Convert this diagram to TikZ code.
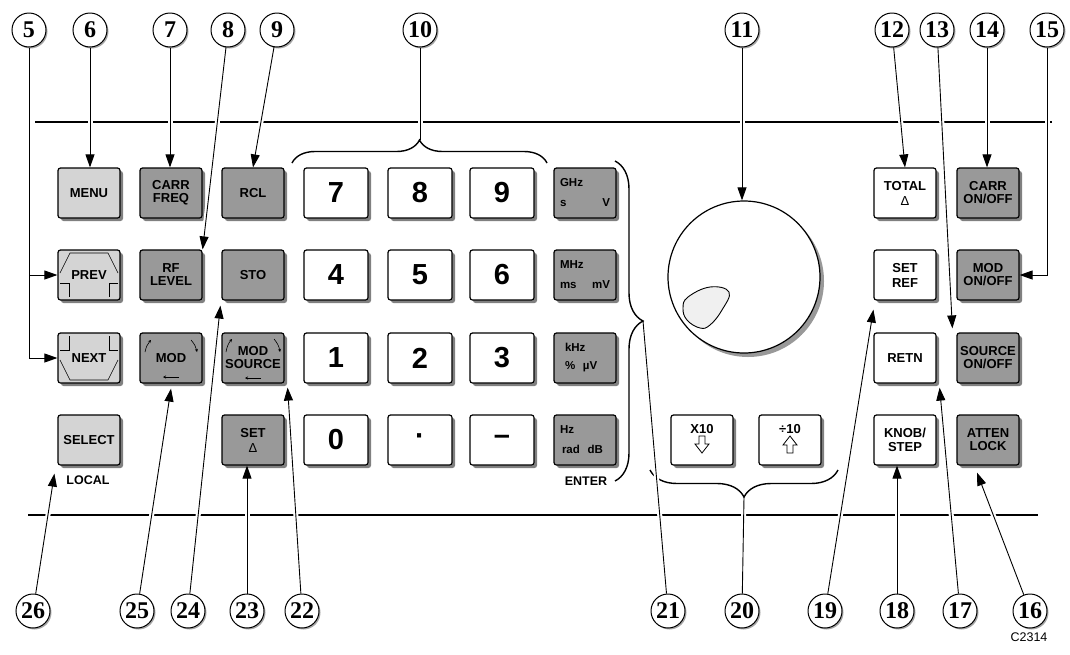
\documentclass[tikz,border=0pt]{standalone}
\usepackage{fontspec}
\setmainfont{Liberation Serif}
\setsansfont{Liberation Sans}
\usetikzlibrary{ arrows.meta,   % For the callout tips
                 decorations.pathreplacing, % For the braces
                 shadows,       % For the shadows under keys and circles
                 positioning,
               }
\tikzstyle{key} = [rectangle, rounded corners=2.5pt, draw=black, line width=1.2pt, minimum width=62pt, minimum height=50pt, inner sep=1pt, align=center, font=\sffamily\bfseries\fontsize{13}{13}\selectfont, drop shadow={shadow xshift=3pt, shadow yshift=-3pt, fill=black!50, opacity=1}]
\tikzstyle{lightkey} = [key, fill=black!17]
\tikzstyle{darkkey} = [key, fill=black!40]
\tikzstyle{plainkey} = [key, fill=white]
\tikzstyle{digitkey} = [plainkey, minimum width=64pt, font=\sffamily\bfseries\fontsize{29}{29}\selectfont]
\tikzstyle{unitkey} = [darkkey, text width=50pt, align=left, font=\sffamily\bfseries\fontsize{11.5}{12}\selectfont]
\tikzstyle{callnum} = [circle, draw=black, line width=1pt, fill=white, minimum size=34pt, inner sep=0pt, font=\bfseries\fontsize{24}{24}\selectfont, drop shadow={shadow xshift=1.5pt, shadow yshift=-1.5pt, fill=black!35, opacity=1}]
\tikzstyle{tip} = [-{Triangle[length=13pt,width=9pt]}, line width=0.9pt]
\tikzstyle{callout} = [tip, preaction={draw=white, line width=5pt, -, shorten >=15pt, shorten <=2pt}]
\tikzstyle{leader} = [line width=0.9pt, preaction={draw=white, line width=5pt, shorten >=3pt, shorten <=2pt}]
\tikzstyle{panel} = [line width=1.6pt]
\tikzstyle{brace} = [decorate, line width=1.4pt]
\tikzstyle{keymark} = [line width=0.6pt]
\tikzstyle{note} = [font=\sffamily\bfseries\fontsize{12.5}{12.5}\selectfont]

\begin{document}
\begin{tikzpicture}[x=1pt, y=-1pt]
  \useasboundingbox (0, 0) rectangle (1070, 654);

  % panel edges
  \draw [panel] (35, 122) -- (1052, 122);
  \draw [panel] (28, 515) -- (1038, 515);

  % braces
  \draw [brace, decoration={brace, amplitude=23pt}] (292, 163) -- (547, 163);
  \coordinate (b10) at (420, 140);
  \draw [brace, decoration={brace, amplitude=28pt}] (615, 161) -- (615, 481);
  \coordinate (b21) at (643, 321);
  \draw [brace, decoration={brace, amplitude=27pt}] (838, 470) -- (650, 470);
  \coordinate (b20) at (744, 497);

  % left keys
  \node (menu) [lightkey] at (89, 193) {MENU};
  \node (carrfreq) [darkkey] at (171, 193) {CARR\\FREQ};
  \node (rcl) [darkkey] at (253, 193) {RCL};
  \node (prev) [lightkey] at (89, 275) {PREV};
  \node (rflevel) [darkkey] at (171, 275) {RF\\LEVEL};
  \node (sto) [darkkey] at (253, 275) {STO};
  \node (next) [lightkey] at (89, 358) {NEXT};
  \node (mod) [darkkey] at (171, 358) {MOD};
  \node (modsource) [darkkey] at (253, 358) {MOD\\SOURCE};
  \node (select) [lightkey] at (89, 440) {SELECT};
  \node (setdelta) [darkkey] at (253, 440) {SET\\[2pt]{\mdseries Δ}};
  \node (local) [note] at (88, 480) {LOCAL};

  % marks on the PREV and NEXT keys
  \begin{scope}[shift={(prev.center)}]
    \draw [keymark] (-29, -2) -- (-19, -22) -- (19, -22) -- (29, -2);
    \draw [keymark] (-29, 8) -- (-20, 8) -- (-20, 22);
    \draw [keymark] (29, 8) -- (20, 8) -- (20, 22);
  \end{scope}
  \begin{scope}[shift={(next.center)}]
    \draw [keymark] (-29, 2) -- (-19, 22) -- (19, 22) -- (29, 2);
    \draw [keymark] (-29, -8) -- (-20, -8) -- (-20, -22);
    \draw [keymark] (29, -8) -- (20, -8) -- (20, -22);
  \end{scope}
  % turn marks on the MOD keys
  \begin{scope}[shift={(mod.center)}]
    \draw [keymark, -{Stealth[length=3pt,width=3pt]}] (-26, -6) to[bend left=15] (-20, -18);
    \draw [keymark, -{Stealth[length=3pt,width=3pt]}] (20, -18) to[bend left=15] (26, -6);
    \draw [keymark, -{Stealth[length=3pt,width=3pt]}] (8, 19) -- (-8, 19);
  \end{scope}
  \begin{scope}[shift={(modsource.center)}]
    \draw [keymark, -{Stealth[length=3pt,width=3pt]}] (-27, -6) to[bend left=15] (-21, -19);
    \draw [keymark, -{Stealth[length=3pt,width=3pt]}] (21, -19) to[bend left=15] (27, -6);
    \draw [keymark, -{Stealth[length=3pt,width=3pt]}] (8, 20) -- (-8, 20);
  \end{scope}

  % number keys
  \node (k7) [digitkey] at (336, 193) {7};
  \node (k8) [digitkey] at (420, 193) {8};
  \node (k9) [digitkey] at (502, 193) {9};
  \node (k4) [digitkey] at (336, 275) {4};
  \node (k5) [digitkey] at (420, 275) {5};
  \node (k6) [digitkey] at (502, 275) {6};
  \node (k1) [digitkey] at (336, 358) {1};
  \node (k2) [digitkey] at (420, 358) {2};
  \node (k3) [digitkey] at (502, 358) {3};
  \node (k0) [digitkey] at (336, 440) {0};
  \node (kdot) [digitkey] at (420, 440) {·};
  \node (kminus) [digitkey] at (502, 440) {–};

  % unit keys
  \node (ghz) [unitkey] at (585, 193) {GHz\\[8pt]s\hfill V};
  \node (mhz) [unitkey] at (585, 275) {MHz\\[8pt]ms\hfill mV};
  \node (khz) [unitkey] at (585, 358) {\hspace*{5pt}kHz\\[6pt]\hspace*{5pt}\%\ \ µV};
  \node (hz) [unitkey] at (585, 440) {Hz\\[8pt]\hspace*{2pt}rad\ \ dB};
  \node (enter) [note] at (586, 481) {ENTER};

  % knob and step keys
  \node (knob) [circle, draw=black, line width=1.2pt, fill=white, minimum size=152pt, drop shadow={shadow xshift=4pt, shadow yshift=-4pt, fill=black!40, opacity=1}] at (744, 277) {};
  \draw [line width=0.9pt, fill=black!6] plot [smooth cycle, tension=0.7] coordinates {(688, 297) (710, 287) (729, 292) (722, 310) (710, 325) (700, 328) (687, 320) (683, 308)};
  \node (x10) [plainkey] at (702, 440) {X10\\[10pt]\mbox{}};
  \node (div10) [plainkey] at (790, 440) {÷10\\[10pt]\mbox{}};
  \begin{scope}[shift={(x10.center)}]
    \draw [keymark, line width=0.8pt] (-3, -4) -- (3, -4) -- (3, 4) -- (7, 4) -- (0, 13) -- (-7, 4) -- (-3, 4) -- cycle;
  \end{scope}
  \begin{scope}[shift={(div10.center)}]
    \draw [keymark, line width=0.8pt] (0, -4) -- (7, 5) -- (3, 5) -- (3, 13) -- (-3, 13) -- (-3, 5) -- (-7, 5) -- cycle;
  \end{scope}

  % right keys
  \node (total) [plainkey] at (905, 193) {TOTAL\\[2pt]{\mdseries Δ}};
  \node (carronoff) [darkkey] at (988, 193) {CARR\\ON/OFF};
  \node (setref) [plainkey] at (905, 275) {SET\\[2pt]REF};
  \node (modonoff) [darkkey] at (988, 275) {MOD\\ON/OFF};
  \node (retn) [plainkey] at (905, 358) {RETN};
  \node (sourceonoff) [darkkey] at (988, 358) {SOURCE\\ON/OFF};
  \node (knobstep) [plainkey] at (905, 440) {KNOB/\\[1pt]STEP};
  \node (attenlock) [darkkey] at (988, 440) {ATTEN\\LOCK};

  % callout numbers
  \node (c5) [callnum] at (29, 30) {5};
  \node (c6) [callnum] at (90, 30) {6};
  \node (c7) [callnum] at (170, 30) {7};
  \node (c8) [callnum] at (228, 30) {8};
  \node (c9) [callnum] at (277, 30) {9};
  \node (c10) [callnum] at (420, 30) {10};
  \node (c11) [callnum] at (742, 30) {11};
  \node (c12) [callnum] at (892, 30) {12};
  \node (c13) [callnum] at (937, 30) {13};
  \node (c14) [callnum] at (987, 30) {14};
  \node (c15) [callnum] at (1047, 30) {15};
  \node (c16) [callnum] at (1030, 611) {16};
  \node (c17) [callnum] at (960, 611) {17};
  \node (c18) [callnum] at (897, 611) {18};
  \node (c19) [callnum] at (825, 611) {19};
  \node (c20) [callnum] at (742, 611) {20};
  \node (c21) [callnum] at (668, 611) {21};
  \node (c22) [callnum] at (302, 611) {22};
  \node (c23) [callnum] at (247, 611) {23};
  \node (c24) [callnum] at (188, 611) {24};
  \node (c25) [callnum] at (137, 611) {25};
  \node (c26) [callnum] at (33, 611) {26};

  % callout lines
  \draw [callout] (c5) |- (next.west);
  \draw [tip] (c5 |- prev.west) -- (prev.west);
  \draw [callout] (c6) -- (c6 |- menu.north);
  \draw [callout] (c7) -- (c7 |- carrfreq.north);
  \draw [callout] (c8) -- (rflevel.north east);
  \draw [callout] (c9) -- (rcl.north);
  \draw [leader] (c10) -- (b10);
  \draw [callout] (c11) -- (c11 |- knob.north);
  \draw [callout] (c12) -- (total.north);
  \draw [callout] (c13) -- ([xshift=-4pt, yshift=4pt]sourceonoff.north west);
  \draw [callout] (c14) -- (c14 |- carronoff.north);
  \draw [callout] (c15) |- (modonoff.east);
  \draw [callout] (c16) -- ([xshift=-11pt, yshift=-7pt]attenlock.south);
  \draw [callout] (c17) -- ([xshift=3pt, yshift=-4pt]retn.south east);
  \draw [callout] (c18) -- (c18 |- knobstep.south);
  \draw [callout] (c19) -- ([yshift=-9pt]setref.south west);
  \draw [leader] (c20) -- (b20);
  \draw [leader] (c21) -- (b21);
  \draw [callout] (c22) -- ([xshift=3pt, yshift=-4pt]modsource.south east);
  \draw [callout] (c23) -- (c23 |- setdelta.south);
  \draw [callout] (c24) -- ([xshift=-1pt, yshift=-5pt]sto.south west);
  \draw [callout] (c25) -- ([yshift=-5pt]mod.south);
  \draw [callout] (c26) -- ([xshift=-3pt, yshift=-8pt]select.south west);

  \node (fignum) [font=\sffamily\fontsize{12.5}{13}\selectfont] at (1029, 637) {C2314};
\end{tikzpicture}
\end{document}
